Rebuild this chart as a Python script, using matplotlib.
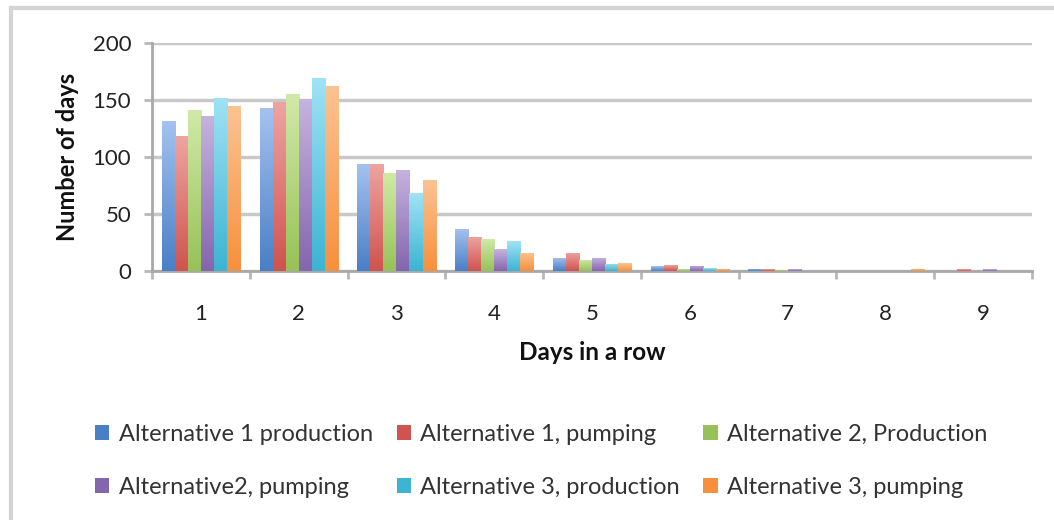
import matplotlib
matplotlib.use("Agg")
import matplotlib.pyplot as plt
import numpy as np
from matplotlib.colors import to_rgb
from matplotlib.patches import Patch

plt.rcParams['font.family'] = ['Lato', 'DejaVu Sans']

days = [1, 2, 3, 4, 5, 6, 7, 8, 9]
series_names = ["Alternative 1 production", "Alternative 1, pumping", "Alternative 2, Production",
                "Alternative2, pumping", "Alternative 3, production", "Alternative 3, pumping"]
alt1_production = [132, 143, 94, 37, 11.5, 4, 2, 0, 0]
alt1_pumping = [118, 148, 94, 30, 16, 5, 1.5, 0, 1.5]
alt2_production = [141, 155, 86, 28, 10, 2, 1, 0, 0]
alt2_pumping = [136, 151, 89, 19, 11.5, 4.5, 1.5, 0, 1.5]
alt3_production = [152, 169, 68, 26, 6.5, 2.5, 0, 0, 0]
alt3_pumping = [145, 162, 80, 16, 7, 2, 0, 2, 0]
all_series = [alt1_production, alt1_pumping, alt2_production, alt2_pumping, alt3_production, alt3_pumping]

base_colors = ["#4a7fc6", "#d0534f", "#97c257", "#8466ae", "#3cb4d2", "#f7903d"]
top_colors = ["#a4c2f0", "#eea4a1", "#d0e9a8", "#c6b3df", "#9fe2f5", "#fbc393"]

fig = plt.figure(figsize=(10.54, 5.2), dpi=100)
ax = fig.add_axes([152/1054, 249/520, 880/1054, 228/520])

# chart frame (top and left edges visible)
fig.add_artist(plt.Line2D([11/1054, 1.0], [1 - 8/520, 1 - 8/520], color="#d4d4d4", lw=3, transform=fig.transFigure))
fig.add_artist(plt.Line2D([11/1054, 11/1054], [0.0, 1 - 8/520], color="#d4d4d4", lw=3, transform=fig.transFigure))

x = np.arange(len(days)) + 1
width = 0.8 / len(all_series)

def gradient_bars(bars, c_top, c_bot):
    top = np.array(to_rgb(c_top))
    bot = np.array(to_rgb(c_bot))
    t = np.linspace(0, 1, 64)[:, None]
    img = (top * (1 - t) + bot * t)[:, None, :]
    for b in bars:
        h = b.get_height()
        if h <= 0:
            continue
        x0 = b.get_x()
        im = ax.imshow(img, extent=[x0, x0 + b.get_width(), 0, h], origin="upper",
                       aspect="auto", zorder=3, interpolation="bilinear")
        im.set_clip_path(b)

for i, vals in enumerate(all_series):
    bars = ax.bar(x - 0.4 + width * (i + 0.5), vals, width, color=base_colors[i], zorder=2)
    gradient_bars(bars, top_colors[i], base_colors[i])

ax.set_xlim(0.5, 9.5)
ax.set_ylim(0, 200)
ax.set_yticks([0, 50, 100, 150, 200])
ax.set_xticks(x)
ax.set_xticklabels([str(d) for d in days])
ax.set_xticks(np.arange(0.5, 10, 1), minor=True)
ax.tick_params(axis="x", which="major", length=0, pad=24, labelsize=16, colors="#222222")
ax.tick_params(axis="x", which="minor", length=6, width=2, color="#b8b8b8")
ax.tick_params(axis="y", length=6, width=2, color="#b8b8b8", labelsize=16, pad=9, labelcolor="#222222")
ax.yaxis.grid(True, color="#c8c8c8", lw=2.5, zorder=0)
ax.set_axisbelow(True)
for s in ["top", "right"]:
    ax.spines[s].set_visible(False)
for s in ["left", "bottom"]:
    ax.spines[s].set_color("#a8a8a8")
    ax.spines[s].set_linewidth(2)

ax.set_xlabel("Days in a row", fontsize=17.5, fontweight="bold", labelpad=12, color="#111111")
ax.set_ylabel("Number of days", fontsize=17, fontweight="bold", labelpad=10, color="#111111")

handles = [Patch(facecolor=c, edgecolor="none") for c in base_colors]
order = [0, 3, 1, 4, 2, 5]
fig.legend([handles[k] for k in order], [series_names[k] for k in order], ncol=3,
           loc="upper left", bbox_to_anchor=(74/1054, 1 - 403/520), frameon=False,
           fontsize=17, handlelength=0.6, handleheight=0.6, handletextpad=0.4,
           columnspacing=1.0, labelspacing=1.35, labelcolor="#333333")

fig.savefig("out.png", dpi=100)
